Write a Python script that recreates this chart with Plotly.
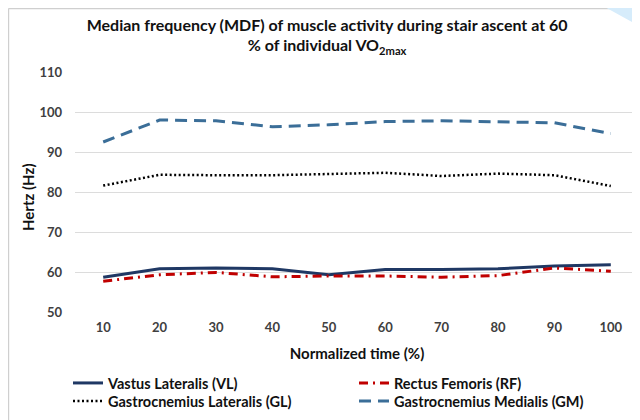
import plotly.graph_objects as go

time_pct = ["10", "20", "30", "40", "50", "60", "70", "80", "90", "100"]
vl = [58.7, 60.8, 61.0, 60.8, 59.3, 60.6, 60.6, 60.8, 61.5, 61.8]
rf = [57.7, 59.3, 59.9, 58.8, 59.0, 59.0, 58.7, 59.1, 61.0, 60.2]
gl = [81.6, 84.3, 84.2, 84.2, 84.5, 84.8, 84.0, 84.6, 84.2, 81.5]
gm = [92.5, 98.0, 97.8, 96.3, 96.8, 97.6, 97.8, 97.6, 97.3, 94.6]
y_ticks = [50, 60, 70, 80, 90, 100, 110]

FONT = "Lato"
W, H = 632, 412  # page body adds an 8px offset in the 640x420 window

fig = go.Figure()
fig.add_trace(go.Scatter(x=time_pct, y=vl, mode="lines", name="Vastus Lateralis (VL)",
                         legend="legend", line=dict(color="#1f3864", width=3)))
fig.add_trace(go.Scatter(x=time_pct, y=gl, mode="lines", name="Gastrocnemius Lateralis (GL)",
                         legend="legend2", line=dict(color="#000000", width=2.5, dash="2px,2.5px")))
fig.add_trace(go.Scatter(x=time_pct, y=rf, mode="lines", name="Rectus Femoris (RF)",
                         legend="legend3",
                         line=dict(color="#c00000", width=3, dash="9px,5px,2px,5px")))
fig.add_trace(go.Scatter(x=time_pct, y=gm, mode="lines", name="Gastrocnemius Medialis (GM)",
                         legend="legend4", line=dict(color="#3b6e98", width=3, dash="12px,7px")))

tick_font = dict(size=13, family=FONT, color="#404040", weight="bold")
legend_font = dict(size=14.5, family=FONT, color="#111111", weight="bold")


def leg(xpx, ytop):
    return dict(orientation="v", xref="container", yref="container",
                x=xpx / W, xanchor="left", y=ytop, yanchor="top",
                font=legend_font, itemwidth=30, bgcolor="rgba(0,0,0,0)")


fig.update_layout(
    width=W, height=H,
    margin=dict(l=67, r=1, t=64, b=108, autoexpand=False),
    paper_bgcolor="white", plot_bgcolor="white",
    font=dict(family=FONT, color="#262626"),
    title=dict(text="<b>Median frequency (MDF) of muscle activity during stair ascent at 60<br>% of individual VO<sub>2max</sub></b>",
               x=0.505, xanchor="center", xref="container", y=0.945, yanchor="top",
               font=dict(family=FONT, size=16, color="#111111")),
    xaxis=dict(type="category", range=[-0.5, 9.5], showgrid=False, showline=False,
               ticks="", ticklabelstandoff=6, tickfont=tick_font,
               title=dict(text="Normalized time (%)", standoff=14,
                          font=dict(size=15, family=FONT, color="#111111", weight="bold"))),
    yaxis=dict(range=[50, 110], tickvals=y_ticks, showgrid=True, gridcolor="#dcdcdc",
               gridwidth=1, zeroline=False, showline=False, ticks="",
               ticklabelstandoff=12, tickfont=tick_font),
    showlegend=True,
    legend=leg(60, 0.1286),
    legend2=leg(60, 0.085),
    legend3=leg(346, 0.1286),
    legend4=leg(346, 0.085),
)

fig.add_annotation(text="Hertz (Hz)", textangle=-90, xref="paper", yref="paper",
                   x=(20 - 67) / 564, y=0.479, xanchor="center", yanchor="middle",
                   showarrow=False,
                   font=dict(size=15, family=FONT, color="#111111", weight="bold"))

# chart frame (top and left edges)
fig.add_shape(type="line", xref="paper", yref="paper", x0=-0.118, x1=0.975, y0=1.2646, y1=1.2646,
              line=dict(color="#cfcfcf", width=1.5))
fig.add_shape(type="line", xref="paper", yref="paper", x0=-0.118, x1=-0.118, y0=1.2646, y1=-0.46,
              line=dict(color="#cfcfcf", width=1.5))
fig.add_shape(type="path", xref="paper", yref="paper",
              path="M 0.94 1.27 L 1.002 1.27 L 1.002 1.19 Z",
              fillcolor="#d6ecfb", line=dict(width=0))

fig.write_html("out.html")
